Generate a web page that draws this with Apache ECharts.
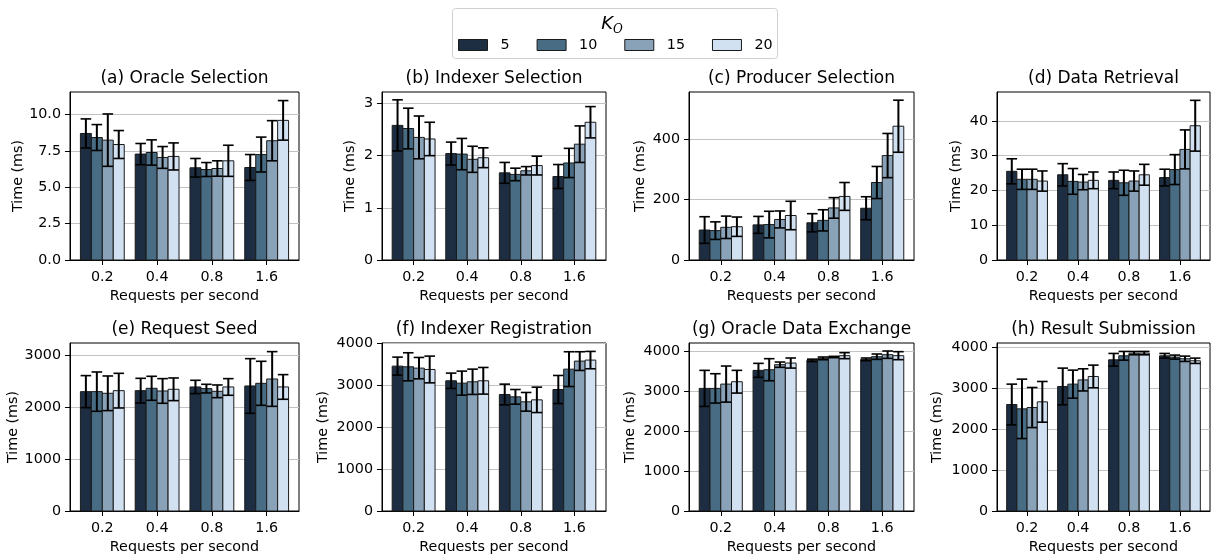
<!DOCTYPE html>
<html>
<head>
<meta charset="utf-8">
<script src="https://cdn.jsdelivr.net/npm/echarts@6/dist/echarts.min.js"></script>
<style>
html,body{margin:0;padding:0;background:#fff;}
#chart{width:1217px;height:555px;}
</style>
</head>
<body>
<div id="chart"></div>
<script>
// ---------------- DATA ----------------
const categories = ['0.2', '0.4', '0.8', '1.6'];
const kLabels = ['5', '10', '15', '20'];
const kColors = ['#1d2e42', '#476c83', '#8aa2b7', '#d1e1f2'];

// rows: K = 5, 10, 15, 20 ; columns: requests per second 0.2, 0.4, 0.8, 1.6
const oracleSelMean = [[8.70, 7.28, 6.34, 6.36], [8.42, 7.39, 6.22, 7.25], [8.24, 7.05, 6.29, 8.20], [7.94, 7.12, 6.82, 9.60]];
const oracleSelStd  = [[1.00, 0.73, 0.64, 0.89], [0.89, 0.87, 0.48, 1.20], [1.80, 0.75, 0.53, 1.38], [0.96, 0.93, 1.07, 1.36]];

const indexerSelMean = [[2.58, 2.04, 1.67, 1.60], [2.52, 2.03, 1.64, 1.86], [2.35, 1.93, 1.71, 2.22], [2.32, 1.96, 1.81, 2.64]];
const indexerSelStd  = [[0.49, 0.22, 0.20, 0.23], [0.39, 0.30, 0.12, 0.28], [0.41, 0.25, 0.08, 0.35], [0.32, 0.19, 0.18, 0.30]];

const producerSelMean = [[99, 116, 123, 171], [97, 117, 131, 256], [108, 134, 172, 345], [110, 147, 210, 442]];
const producerSelStd  = [[44, 28, 30, 38], [29, 44, 35, 53], [37, 28, 34, 73], [32, 47, 46, 86]];

const dataRetMean = [[25.5, 24.5, 22.9, 23.7], [23.2, 22.6, 22.2, 26.0], [23.2, 22.4, 22.7, 31.8], [22.7, 22.9, 24.5, 38.6]];
const dataRetStd  = [[3.6, 3.2, 2.4, 2.4], [2.9, 3.7, 3.6, 4.3], [2.9, 2.2, 2.9, 5.6], [2.9, 2.4, 3.0, 7.3]];

const reqSeedMean = [[2295, 2314, 2385, 2404], [2295, 2359, 2353, 2455], [2263, 2308, 2301, 2538], [2314, 2340, 2385, 2385]];
const reqSeedStd  = [[308, 237, 128, 525], [378, 231, 83, 423], [333, 237, 122, 526], [333, 218, 160, 237]];

const indexerRegMean = [[3458, 3108, 2781, 2900], [3442, 3052, 2725, 3386], [3410, 3084, 2606, 3578], [3378, 3108, 2653, 3602]];
const indexerRegStd  = [[215, 183, 247, 335], [335, 287, 175, 415], [255, 302, 223, 223], [319, 318, 303, 207]];

const oracleExMean = [[3065, 3516, 3766, 3791], [3065, 3532, 3816, 3858], [3173, 3658, 3850, 3908], [3232, 3699, 3883, 3883]];
const oracleExStd  = [[451, 175, 30, 34], [367, 276, 34, 67], [451, 66, 16, 92], [284, 126, 75, 100]];

const resultSubMean = [[2599, 3039, 3690, 3788], [2493, 3096, 3788, 3756], [2525, 3200, 3853, 3715], [2664, 3283, 3853, 3666]];
const resultSubStd  = [[497, 448, 155, 57], [725, 342, 106, 49], [489, 270, 40, 65], [497, 277, 41, 65]];

const titles = ['(a) Oracle Selection', '(b) Indexer Selection', '(c) Producer Selection', '(d) Data Retrieval',
                '(e) Request Seed', '(f) Indexer Registration', '(g) Oracle Data Exchange', '(h) Result Submission'];
const yTicksA = [0, 2.5, 5, 7.5, 10];
const yTicksB = [0, 1, 2, 3];
const yTicksC = [0, 200, 400];
const yTicksD = [0, 10, 20, 30, 40];
const yTicksE = [0, 1000, 2000, 3000];
const yTicksFGH = [0, 1000, 2000, 3000, 4000];
const yMaxes = [11.55, 3.22, 555, 48.3, 3230, 4010, 4200, 4100];
const xLabel = 'Requests per second';
const yLabel = 'Time (ms)';

// ---------------- LAYOUT ----------------
const FONT = 'DejaVu Sans';
const FS = 14.3;
const panels = [
  { mean: oracleSelMean,   std: oracleSelStd,   ticks: yTicksA,   dec: 1, left: 70,  width: 229, top: 92,  nameGap: 44 },
  { mean: indexerSelMean,  std: indexerSelStd,  ticks: yTicksB,   dec: 0, left: 382, width: 224, top: 92,  nameGap: 25 },
  { mean: producerSelMean, std: producerSelStd, ticks: yTicksC,   dec: 0, left: 689, width: 225, top: 92,  nameGap: 42 },
  { mean: dataRetMean,     std: dataRetStd,     ticks: yTicksD,   dec: 0, left: 997, width: 213, top: 92,  nameGap: 34 },
  { mean: reqSeedMean,     std: reqSeedStd,     ticks: yTicksE,   dec: 0, left: 70,  width: 229, top: 343, nameGap: 47 },
  { mean: indexerRegMean,  std: indexerRegStd,  ticks: yTicksFGH, dec: 0, left: 382, width: 224, top: 343, nameGap: 52 },
  { mean: oracleExMean,    std: oracleExStd,    ticks: yTicksFGH, dec: 0, left: 689, width: 225, top: 343, nameGap: 52 },
  { mean: resultSubMean,   std: resultSubStd,   ticks: yTicksFGH, dec: 0, left: 997, width: 213, top: 343, nameGap: 53 }
];
const PLOT_H = 168;
const BAR_W = 0.2;
const CAP_HALF = 5.3;

const grids = [], xAxes = [], yAxes = [], titleOpts = [], series = [];

panels.forEach((p, pi) => {
  grids.push({ left: p.left, top: p.top, width: p.width, height: PLOT_H, containLabel: false,
               show: true, borderColor: '#000', borderWidth: 1, backgroundColor: 'transparent' });
  xAxes.push({
    type: 'value', gridIndex: pi, min: -0.59, max: 3.59,
    name: xLabel, nameLocation: 'middle', nameGap: 29,
    nameTextStyle: { fontFamily: FONT, fontSize: FS, color: '#000' },
    axisLine: { show: true, onZero: false, lineStyle: { color: '#000', width: 1 } },
    axisTick: { show: true, length: 5, inside: false, lineStyle: { color: '#000', width: 1 }, customValues: [0, 1, 2, 3] },
    axisLabel: { customValues: [0, 1, 2, 3], margin: 10, fontFamily: FONT, fontSize: FS, color: '#000',
                 formatter: v => categories[Math.round(v)] },
    splitLine: { show: false }
  });
  yAxes.push({
    type: 'value', gridIndex: pi, min: 0, max: yMaxes[pi],
    name: yLabel, nameLocation: 'middle', nameGap: p.nameGap, nameRotate: 90,
    nameTextStyle: { fontFamily: FONT, fontSize: FS, color: '#000' },
    axisLine: { show: true, onZero: false, lineStyle: { color: '#000', width: 1 } },
    axisTick: { show: true, length: 5, inside: false, lineStyle: { color: '#000', width: 1 }, customValues: p.ticks },
    axisLabel: { customValues: p.ticks, margin: 9, fontFamily: FONT, fontSize: FS, color: '#000',
                 formatter: v => v.toFixed(p.dec) },
    splitLine: { show: true, customValues: p.ticks, lineStyle: { color: '#c2c2c2', width: 1 } }
  });
  titleOpts.push({
    text: titles[pi], left: p.left + p.width / 2, top: p.top - 22, textAlign: 'center', padding: 0,
    textStyle: { fontFamily: FONT, fontSize: 17, fontWeight: 'normal', color: '#000' }
  });
  kLabels.forEach((k, j) => {
    series.push({
      type: 'custom', name: k, xAxisIndex: pi, yAxisIndex: pi,
      itemStyle: { color: kColors[j], borderColor: '#1a1a1a', borderWidth: 1 },
      encode: { x: 0, y: 1 },
      data: categories.map((c, i) => [i, p.mean[j][i], p.std[j][i]]),
      renderItem: function (params, api) {
        const cat = api.value(0), m = api.value(1), s = api.value(2);
        const xc = cat + (j - 1.5) * BAR_W;
        const pA = api.coord([xc - BAR_W / 2, m]);
        const pB = api.coord([xc + BAR_W / 2, 0]);
        const pt = api.coord([xc, m + s]);
        const pb = api.coord([xc, m - s]);
        return {
          type: 'group',
          children: [
            { type: 'rect', shape: { x: pA[0], y: pA[1], width: pB[0] - pA[0], height: pB[1] - pA[1] },
              style: { fill: kColors[j], stroke: '#1a1a1a', lineWidth: 1 } },
            { type: 'line', shape: { x1: pt[0], y1: pt[1], x2: pb[0], y2: pb[1] },
              style: { stroke: '#000', lineWidth: 2 } },
            { type: 'line', shape: { x1: pt[0] - CAP_HALF, y1: pt[1], x2: pt[0] + CAP_HALF, y2: pt[1] },
              style: { stroke: '#000', lineWidth: 1.6 } },
            { type: 'line', shape: { x1: pb[0] - CAP_HALF, y1: pb[1], x2: pb[0] + CAP_HALF, y2: pb[1] },
              style: { stroke: '#000', lineWidth: 1.6 } }
          ]
        };
      }
    });
  });
});

const chart = echarts.init(document.getElementById('chart'), null, { renderer: 'canvas' });
chart.setOption({
  animation: false,
  backgroundColor: '#fff',
  title: titleOpts,
  grid: grids,
  xAxis: xAxes,
  yAxis: yAxes,
  legend: {
    data: kLabels, left: 458, top: 38, padding: 0, orient: 'horizontal',
    icon: 'rect', itemWidth: 29, itemHeight: 11, itemGap: 27,
    itemStyle: { borderColor: '#1a1a1a', borderWidth: 1 },
    textStyle: { fontFamily: FONT, fontSize: FS, color: '#000', padding: [0, 0, 0, 8] },
    selectedMode: false, z: 10
  },
  graphic: [
    { type: 'rect', left: 452, top: 8, z: 1, shape: { width: 325, height: 50, r: 3 },
      style: { fill: '#fff', stroke: '#d0d0d0', lineWidth: 1 } },
    { type: 'text', x: 613, y: 24, z: 2,
      style: { text: 'K', fontFamily: 'DejaVu Sans', fontStyle: 'italic', fontSize: 18, fill: '#000',
               align: 'right', verticalAlign: 'middle' } },
    { type: 'text', x: 613, y: 30, z: 2,
      style: { text: 'O', fontFamily: 'DejaVu Serif', fontStyle: 'italic', fontSize: 12, fill: '#000',
               align: 'left', verticalAlign: 'middle' } }
  ],
  series: series
});
</script>
</body>
</html>
